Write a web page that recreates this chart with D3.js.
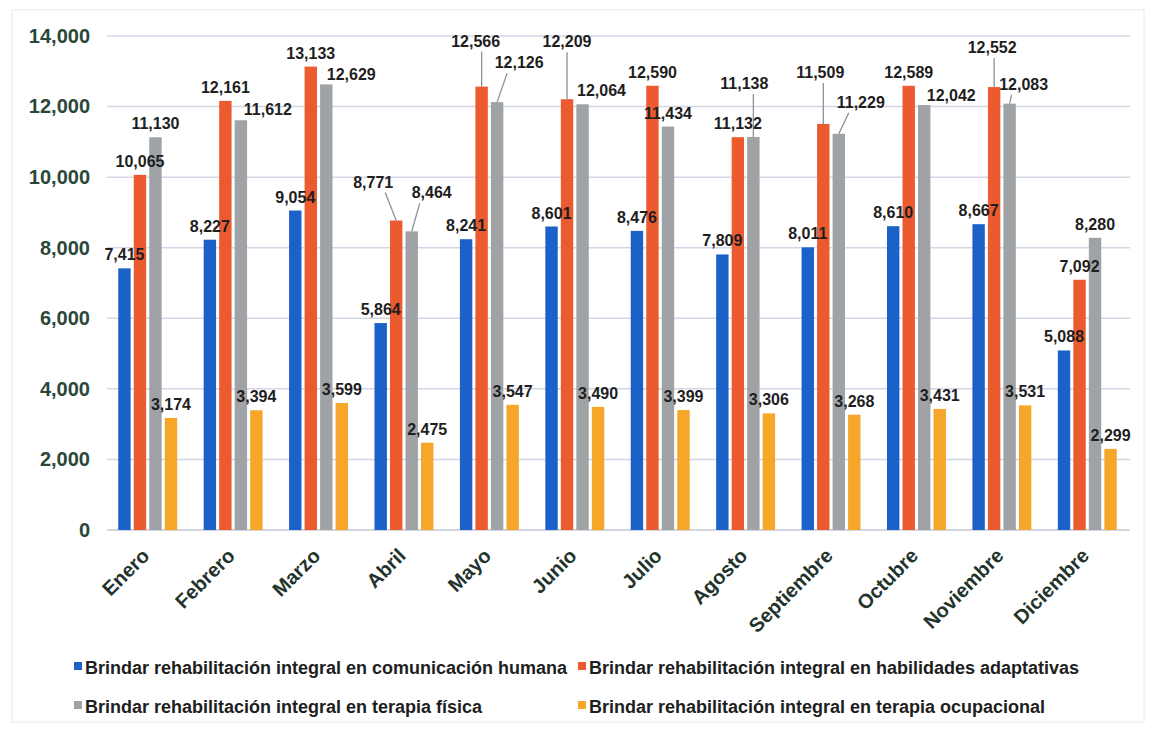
<!DOCTYPE html>
<html>
<head>
<meta charset="utf-8">
<script src="https://cdn.jsdelivr.net/npm/d3@7"></script>
<style>
  body { margin: 0; background: #fff; }
  svg text { font-family: "Liberation Sans", Arial, sans-serif; font-weight: bold; }
</style>
</head>
<body>
<svg id="chart" width="1156" height="730"></svg>
<script>
"use strict";

const months = ["Enero", "Febrero", "Marzo", "Abril", "Mayo", "Junio", "Julio",
  "Agosto", "Septiembre", "Octubre", "Noviembre", "Diciembre"];

const seriesNames = [
  "Brindar rehabilitación integral en comunicación humana",
  "Brindar rehabilitación integral en habilidades adaptativas",
  "Brindar rehabilitación integral en terapia física",
  "Brindar rehabilitación integral en terapia ocupacional",
];

const comunicacion = [7415, 8227, 9054, 5864, 8241, 8601, 8476, 7809, 8011, 8610, 8667, 5088];
const habilidades = [10065, 12161, 13133, 8771, 12566, 12209, 12590, 11132, 11509, 12589, 12552, 7092];
const terapiaFisica = [11130, 11612, 12629, 8464, 12126, 12064, 11434, 11138, 11229, 12042, 12083, 8280];
const terapiaOcupacional = [3174, 3394, 3599, 2475, 3547, 3490, 3399, 3306, 3268, 3431, 3531, 2299];

const yTicks = [0, 2000, 4000, 6000, 8000, 10000, 12000, 14000];

const colors = ["#1b61c7", "#ec5a2f", "#9fa3a6", "#f6a72a"];

// labels moved away from the default spot (month index|series index -> dx, dy, leader line)
const labelNudge = {
  "1|2": [27, 3, false],
  "2|2": [25, 4, false],
  "3|1": [-23, -25, true],
  "3|2": [20, -25, true],
  "4|1": [-6, -32, true],
  "4|2": [22, -26, true],
  "5|1": [0, -44, true],
  "5|2": [19, 0, false],
  "7|2": [-9, -40, true],
  "8|1": [-3, -38, true],
  "8|2": [22, -18, true],
  "9|2": [27, 4, false],
  "10|1": [-2, -26, true],
  "10|2": [14, -6, true],
};

const allSeries = [comunicacion, habilidades, terapiaFisica, terapiaOcupacional];

const svg = d3.select("#chart");

// faint frame
svg.append("rect")
  .attr("x", 12).attr("y", 10).attr("width", 1132).attr("height", 712)
  .attr("fill", "none").attr("stroke", "#e8e8ef").attr("stroke-width", 1);

const x0 = d3.scaleBand().domain(months).range([105, 1130])
  .paddingInner(0.31).paddingOuter(0.155);
const x1 = d3.scaleBand().domain([0, 1, 2, 3]).range([0, x0.bandwidth()])
  .paddingInner(0.2);
const y = d3.scaleLinear().domain([0, 14000]).range([530, 36]);

// gridlines
svg.append("g")
  .selectAll("line")
  .data(yTicks)
  .enter()
  .append("line")
  .attr("x1", 107).attr("x2", 1130)
  .attr("y1", (d) => y(d)).attr("y2", (d) => y(d))
  .attr("stroke", (d) => (d === 0 ? "#c5c8d6" : "#d4d6e6"))
  .attr("stroke-width", 1.5);

// y axis labels
const yAxis = svg.append("g")
  .attr("transform", "translate(90,0)")
  .call(d3.axisLeft(y).tickValues(yTicks).tickSize(0).tickPadding(0)
    .tickFormat(d3.format(",")));
yAxis.select(".domain").remove();
yAxis.selectAll("text")
  .attr("font-size", 20)
  .attr("fill", "#2a4739")
  .attr("font-family", "'Liberation Sans', Arial, sans-serif")
  .attr("font-weight", "bold");

// x axis labels
const xAxis = svg.append("g")
  .attr("transform", `translate(0,${y(0)})`)
  .call(d3.axisBottom(x0).tickSize(0).tickPadding(0));
xAxis.select(".domain").remove();
xAxis.selectAll("text")
  .attr("font-size", 20)
  .attr("fill", "#22332c")
  .attr("font-family", "'Liberation Sans', Arial, sans-serif")
  .attr("font-weight", "bold")
  .attr("text-anchor", "end")
  .attr("dy", null)
  .attr("transform", "translate(3,27) rotate(-45)");

// bars
const rows = months.map((m, i) => ({
  month: m,
  values: allSeries.map((s, k) => ({ i: i, k: k, v: s[i] })),
}));

const groups = svg.append("g")
  .selectAll("g")
  .data(rows)
  .enter()
  .append("g")
  .attr("transform", (d) => `translate(${x0(d.month)},0)`);

groups.selectAll("rect")
  .data((d) => d.values)
  .enter()
  .append("rect")
  .attr("x", (d) => x1(d.k))
  .attr("width", x1.bandwidth())
  .attr("y", (d) => y(d.v))
  .attr("height", (d) => y(0) - y(d.v))
  .attr("fill", (d) => colors[d.k]);

// data labels
const fmt = d3.format(",");
const labels = [];
rows.forEach((r) => {
  r.values.forEach((d) => {
    const bx = x0(r.month) + x1(d.k) + x1.bandwidth() / 2;
    const by = y(d.v);
    const nudge = labelNudge[d.i + "|" + d.k] || [0, 0, false];
    labels.push({
      text: fmt(d.v), bx: bx, by: by,
      lx: bx + nudge[0], ly: by - 8 + nudge[1], line: nudge[2],
    });
  });
});

svg.append("g")
  .selectAll("line")
  .data(labels.filter((d) => d.line))
  .enter()
  .append("line")
  .attr("x1", (d) => d.lx + Math.max(-12, Math.min(12, d.bx - d.lx)))
  .attr("y1", (d) => d.ly + 5)
  .attr("x2", (d) => d.bx)
  .attr("y2", (d) => d.by)
  .attr("stroke", "#8d9094")
  .attr("stroke-width", 1.3);

svg.append("g")
  .selectAll("text")
  .data(labels)
  .enter()
  .append("text")
  .attr("x", (d) => d.lx)
  .attr("y", (d) => d.ly)
  .attr("text-anchor", "middle")
  .attr("font-size", 16)
  .attr("fill", "#1e1e1e")
  .text((d) => d.text);

// legend
const legendPos = [[74, 674], [578, 674], [74, 713], [578, 713]];
const legend = svg.append("g")
  .selectAll("g")
  .data(seriesNames)
  .enter()
  .append("g")
  .attr("transform", (d, i) => `translate(${legendPos[i][0]},${legendPos[i][1]})`);

legend.append("rect")
  .attr("x", 0).attr("y", -12)
  .attr("width", 8).attr("height", 8)
  .attr("fill", (d, i) => colors[i]);

legend.append("text")
  .attr("x", 11)
  .attr("y", 0)
  .attr("font-size", 18)
  .attr("fill", "#1e1e1e")
  .text((d) => d);
</script>
</body>
</html>
